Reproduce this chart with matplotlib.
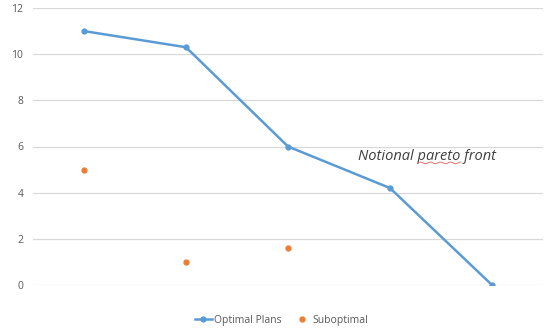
import numpy as np
import matplotlib
matplotlib.use("Agg")
import matplotlib.pyplot as plt
from matplotlib.lines import Line2D

plt.rcParams['font.family'] = ['Open Sans', 'DejaVu Sans']

categories = [1, 2, 3, 4, 5]
optimal = [11, 10.3, 6, 4.2, 0]
sub_categories = [1, 2, 3]
suboptimal = [5, 1, 1.6]
yticks = [0, 2, 4, 6, 8, 10, 12]

blue = '#5b9bd5'
orange = '#ed7d31'

fig = plt.figure(figsize=(5.45, 3.28), dpi=100)
ax = fig.add_axes([33 / 545, (328 - 285) / 328, 510 / 545, 277 / 328])

ax.plot(categories, optimal, color=blue, lw=1.8, marker='o', ms=3.5, zorder=3,
        label='Optimal Plans')
ax.plot(sub_categories, suboptimal, ls='none', color=orange, marker='o', ms=3.5,
        zorder=3, label='Suboptimal')

ax.set_xlim(0.5, 5.5)
ax.set_ylim(0, 12)
ax.set_yticks(yticks)
ax.set_xticks([])
ax.grid(axis='y', color='#d9d9d9', lw=0.9)
ax.set_axisbelow(True)
for s in ax.spines.values():
    s.set_visible(False)
ax.tick_params(axis='y', length=0, labelsize=7.5, labelcolor='#595959', pad=7)

txt = ax.text(3.69, 5.55, 'Notional pareto front', fontsize=10.5, style='italic',
              color='#404040', ha='left', va='center')

# wavy underline below the word "pareto"
fig.canvas.draw()
r = fig.canvas.get_renderer()
full = txt.get_window_extent(r)
pre = ax.text(0, 0, 'Notional ', fontsize=10.5, style='italic')
word = ax.text(0, 0, 'pareto', fontsize=10.5, style='italic')
w_pre = pre.get_window_extent(r).width
w_word = word.get_window_extent(r).width
pre.remove()
word.remove()
x0 = full.x0 + w_pre
xs = np.linspace(x0, x0 + w_word, 60)
ys = full.y0 + 1.5 + 0.8 * np.sin((xs - x0) / 1.6)
fig.add_artist(Line2D(xs, ys, color='#e8706a', lw=0.7, transform=None))

handles = [Line2D([], [], color=blue, lw=1.8, marker='o', ms=3.5),
           Line2D([], [], color=orange, ls='none', marker='o', ms=3.5)]
fig.legend(handles, ['Optimal Plans', 'Suboptimal'], loc='center',
           bbox_to_anchor=(0.517, 0.024), ncol=2, frameon=False, fontsize=7.5,
           labelcolor='#595959', handlelength=1.6, columnspacing=1.1,
           handletextpad=0.25)

fig.savefig('out.png', dpi=100)
